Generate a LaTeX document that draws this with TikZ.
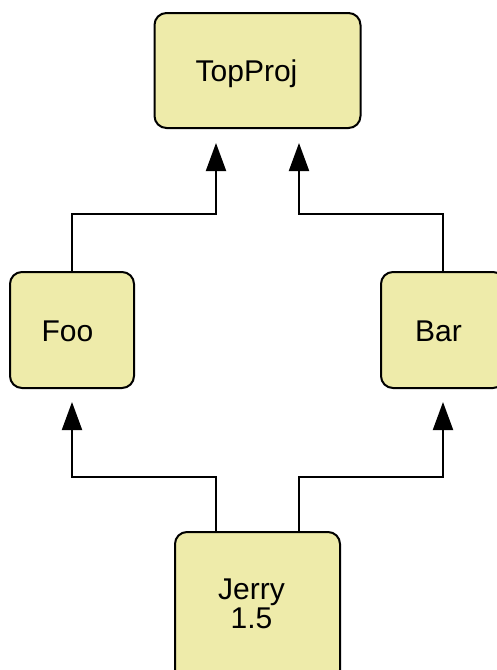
\documentclass[tikz,border=0pt]{standalone}
\usepackage{fontspec}
\setmainfont{Liberation Sans}
\usetikzlibrary{arrows.meta}
\definecolor{boxfill}{HTML}{EEEBAA}
\begin{document}
\begin{tikzpicture}[x=1pt,y=-1pt,
  box/.style={draw=black,line width=2pt,fill=boxfill,rounded corners=12pt,inner sep=0pt,outer sep=0pt},
  lbl/.style={inner sep=0pt,anchor=base,font=\fontsize{30}{29}\selectfont},
  arr/.style={draw=black,line width=2pt,-{Triangle[length=28pt,width=20pt]}}]
\useasboundingbox (0,0) rectangle (496,670);
\node[box,minimum width=206pt,minimum height=115pt] (top) at (257.5,70.5) {};
\node[box,minimum width=124pt,minimum height=116pt] (foo) at (72,330) {};
\node[box,minimum width=124pt,minimum height=116pt] (bar) at (443,330) {};
\node[box,minimum width=165pt,minimum height=150pt] (jerry) at (257.5,607) {};
\node[lbl] (toptxt) at (246.5,81) {TopProj};
\node[lbl] (footxt) at (67.5,341) {Foo};
\node[lbl] (bartxt) at (438.5,341) {Bar};
\node[lbl,align=center] (jerrytxt) at (251.5,628) {Jerry\\1.5};
\draw[arr,shorten >=15pt] (foo.north) -- ++(0,-58) -| ([xshift=-41.5pt]top.south);
\draw[arr,shorten >=15pt] (bar.north) -- ++(0,-58) -| ([xshift=41.5pt]top.south);
\draw[arr,shorten >=14pt] ([xshift=-41.5pt]jerry.north) -- ++(0,-55) -| (foo.south);
\draw[arr,shorten >=14pt] ([xshift=41.5pt]jerry.north) -- ++(0,-55) -| (bar.south);
\end{tikzpicture}
\end{document}
